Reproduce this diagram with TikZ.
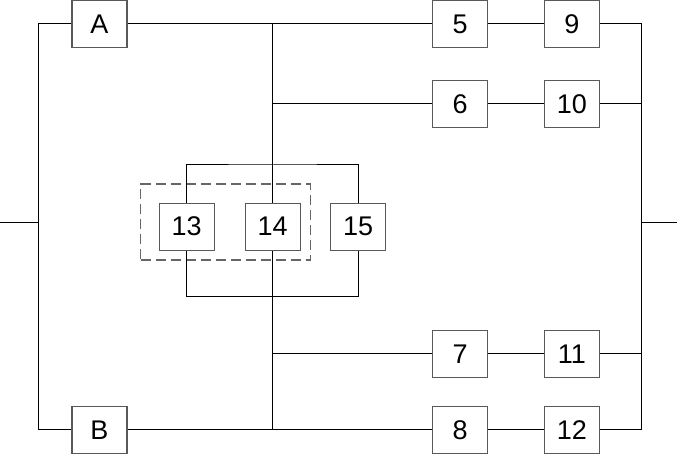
\documentclass[tikz,border=0pt]{standalone}
\usepackage{fontspec}
\setmainfont{Liberation Sans}

\begin{document}
\begin{tikzpicture}[x=1pt, y=1pt,
  every node/.style={font=\fontsize{27}{31}\selectfont},
  blk/.style={draw=black!65, line width=1.3pt, fill=white,
              minimum width=55pt, minimum height=47pt, inner sep=0pt},
  wire/.style={draw=black, line width=1pt},
  grp/.style={draw=black!60, line width=1.5pt, dash pattern=on 10pt off 5pt,
              minimum width=169.6pt, minimum height=75.7pt, inner sep=0pt},
]
\useasboundingbox (0,0) rectangle (677,454);

% Group around 13 and 14
\node[grp] (g1314) at (225.5,231.9) {};

% Left branches
\node[blk] (A) at (99.5,430) {A};
\node[blk] (B) at (99.5,24) {B};

% Series blocks
\node[blk] (b5)  at (460.2,430) {5};
\node[blk] (b9)  at (571.8,430) {9};
\node[blk] (b6)  at (460.2,350) {6};
\node[blk] (b10) at (571.8,350) {10};
\node[blk] (b7)  at (460.2,100) {7};
\node[blk] (b11) at (571.8,100) {11};
\node[blk] (b8)  at (460.2,24) {8};
\node[blk] (b12) at (571.8,24) {12};

% Parallel blocks
\node[blk] (b13) at (186.7,227.3) {13};
\node[blk] (b14) at (272.7,227.3) {14};
\node[blk] (b15) at (358.2,227.3) {15};

% Junctions
\coordinate (in)   at (0,231.5);
\coordinate (lbus) at (38.3,231.5);
\coordinate (ct)   at (272.7,430);
\coordinate (cb)   at (272.7,24);
\coordinate (lt)   at (272.7,289);
\coordinate (lb)   at (272.7,157.3);
\coordinate (rbus) at (641.7,231.5);
\coordinate (out)  at (677,231.5);

% Input side
\draw[wire] (in) -- (lbus);
\draw[wire] (A) -| (lbus) |- (B);

% Top and bottom rails
\draw[wire] (A) -- (b5);
\draw[wire] (B) -- (b8);

% Centre spine
\draw[wire] (ct) -- (b14);
\draw[wire] (b14) -- (cb);
\draw[wire] (b6) -- (b6 -| ct);
\draw[wire] (b7) -- (b7 -| ct);

% Parallel loop
\draw[wire] (b13) |- (lt) -| (b15);
\draw[wire] (b13) |- (lb) -| (b15);

% Series pairs
\draw[wire] (b5) -- (b9);
\draw[wire] (b6) -- (b10);
\draw[wire] (b7) -- (b11);
\draw[wire] (b8) -- (b12);

% Output side
\draw[wire] (b9) -| (rbus) |- (b12);
\draw[wire] (b10) -- (b10 -| rbus);
\draw[wire] (b11) -- (b11 -| rbus);
\draw[wire] (rbus) -- (out);

\end{tikzpicture}
\end{document}
